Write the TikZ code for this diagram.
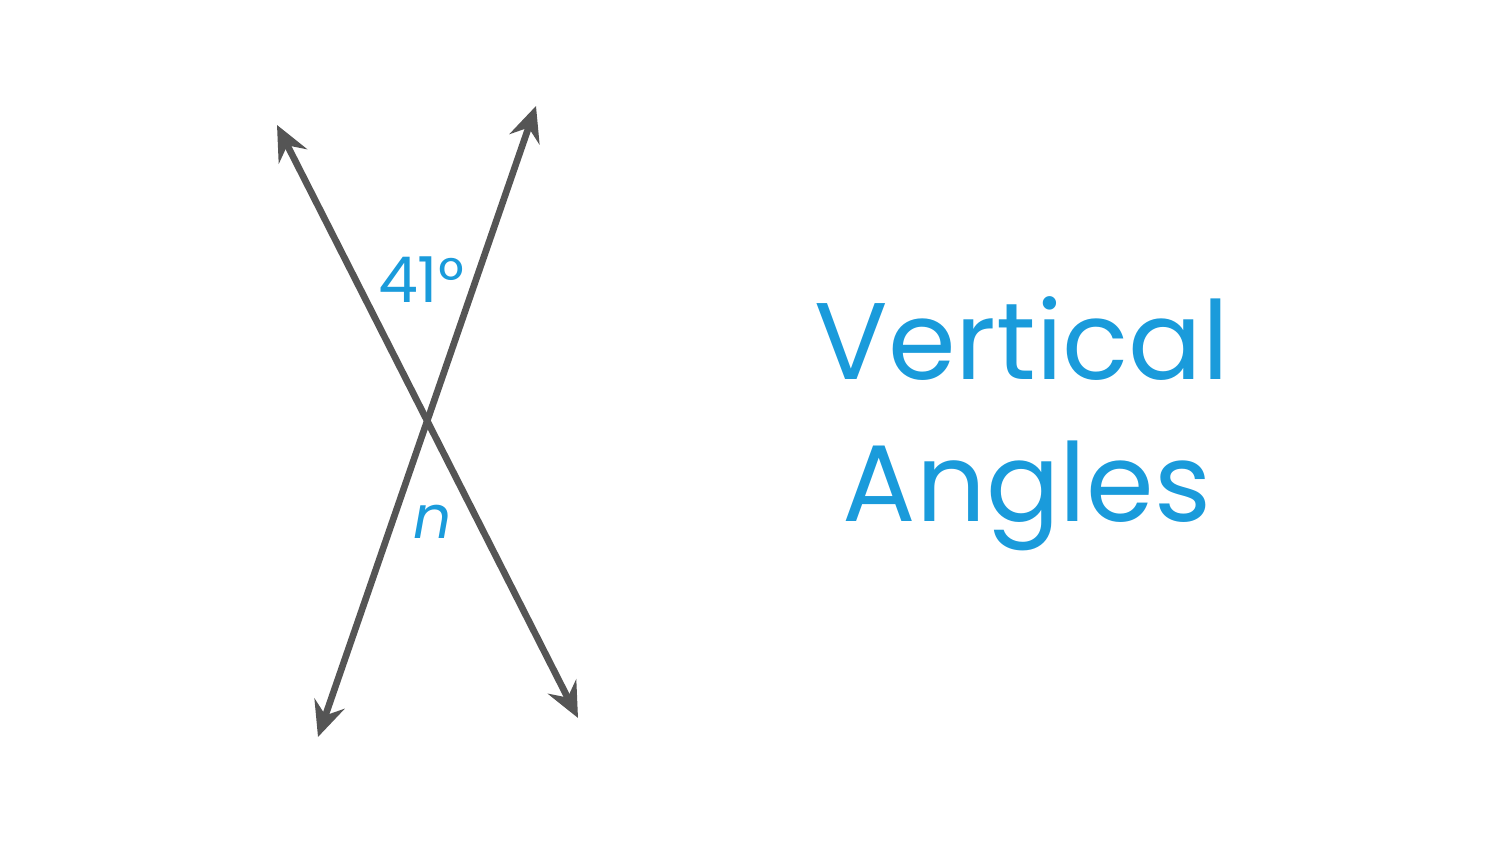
\documentclass[tikz,border=0pt]{standalone}
\usepackage{fontspec}
\setmainfont{Poppins}
\usetikzlibrary{arrows.meta}
\definecolor{lineGray}{HTML}{555555}
\definecolor{angBlue}{HTML}{1A9BDB}
\begin{document}
\begin{tikzpicture}[line join=round, line cap=round, >={Stealth[length=10pt, width=9pt, inset=3.5pt]}, scale=1]
\useasboundingbox (0,0) rectangle (15,8.44);
\path (2.77,7.19) coordinate (A) (5.78,1.26) coordinate (B)
(5.36,7.38) coordinate (C) (3.18,1.07) coordinate (D);
\draw[lineGray, line width=1.9pt, <->] (A)--(B);
\draw[lineGray, line width=1.9pt, <->] (C)--(D);
\node[angBlue, font=\fontsize{18}{21}\selectfont] (ang) at (4.21,5.64) {41°};
\node[angBlue, font=\fontsize{17}{20}\selectfont\itshape] (n) at (4.33,3.22) {n};
\foreach \t/\x/\y in {Vertical/10.22/4.64, Angles/10.27/3.22}{
\node[angBlue, anchor=base, font=\fontsize{31}{37}\selectfont] (\t) at (\x,\y) {\t};}
\end{tikzpicture}
\end{document}
